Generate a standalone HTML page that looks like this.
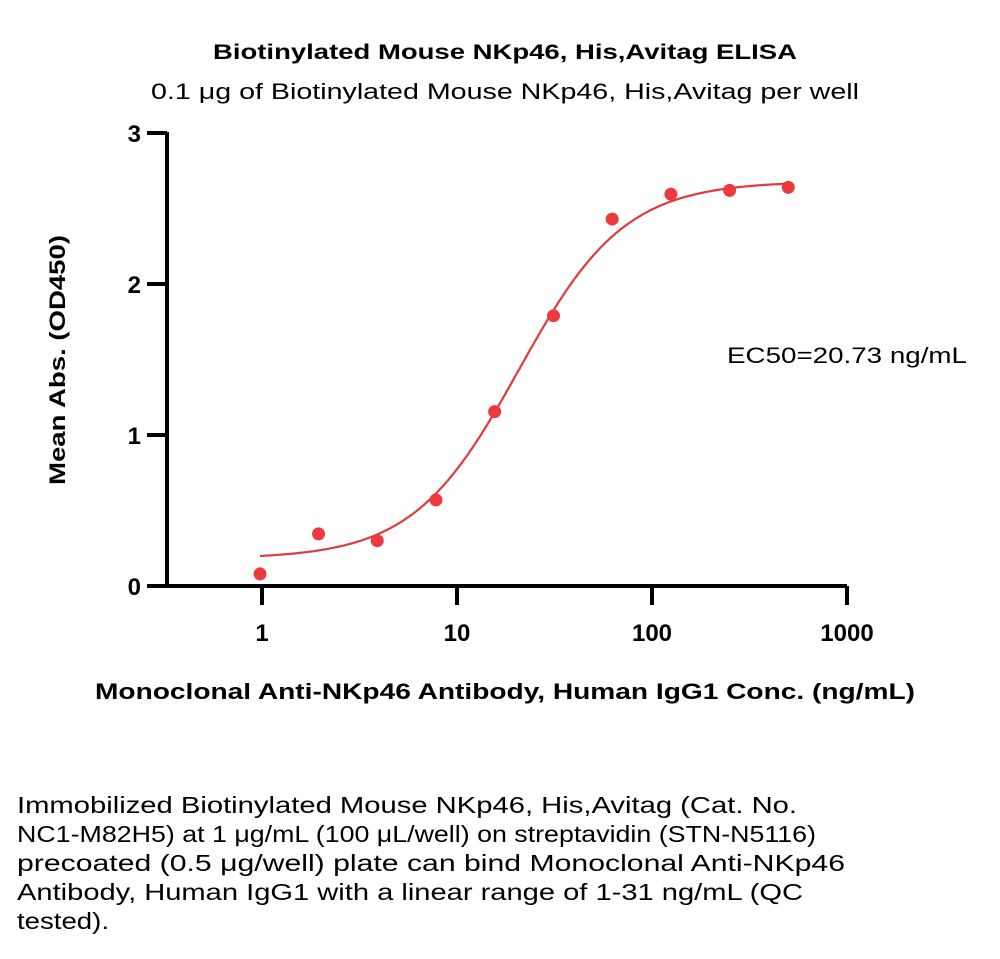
<!DOCTYPE html>
<html><head><meta charset="utf-8"><style>
html,body{margin:0;padding:0;background:#fff;}
svg{display:block;font-family:"Liberation Sans",sans-serif;}
</style></head><body>
<svg id="chart" width="1000" height="959" viewBox="0 0 1000 959">
<text x="505" y="59" text-anchor="middle" font-size="21" font-weight="bold" textLength="584" lengthAdjust="spacingAndGlyphs">Biotinylated Mouse NKp46, His,Avitag ELISA</text>
<text x="505" y="99" text-anchor="middle" font-size="22" textLength="708" lengthAdjust="spacingAndGlyphs">0.1 μg of Biotinylated Mouse NKp46, His,Avitag per well</text>
<text transform="translate(65,360) rotate(-90)" text-anchor="middle" font-size="22" font-weight="bold" textLength="250" lengthAdjust="spacingAndGlyphs">Mean Abs. (OD450)</text>
<text x="505" y="699" text-anchor="middle" font-size="22" font-weight="bold" textLength="820" lengthAdjust="spacingAndGlyphs">Monoclonal Anti-NKp46 Antibody, Human IgG1 Conc. (ng/mL)</text>
<text x="727" y="363" font-size="22" textLength="240" lengthAdjust="spacingAndGlyphs">EC50=20.73 ng/mL</text>
<g id="axes"></g>
<g id="marks"></g>
<g font-size="23.5">
<text x="17" y="813" textLength="780" lengthAdjust="spacingAndGlyphs">Immobilized Biotinylated Mouse NKp46, His,Avitag (Cat. No.</text>
<text x="17" y="842" textLength="799" lengthAdjust="spacingAndGlyphs">NC1-M82H5) at 1 μg/mL (100 μL/well) on streptavidin (STN-N5116)</text>
<text x="17" y="871" textLength="828" lengthAdjust="spacingAndGlyphs">precoated (0.5 μg/well) plate can bind Monoclonal Anti-NKp46</text>
<text x="17" y="900" textLength="786" lengthAdjust="spacingAndGlyphs">Antibody, Human IgG1 with a linear range of 1-31 ng/mL (QC</text>
<text x="17" y="929" textLength="92" lengthAdjust="spacingAndGlyphs">tested).</text>
</g>
</svg>
<script>
const concentrations = [0.977, 1.95, 3.9, 7.8, 15.6, 31.25, 62.5, 125, 250, 500];
const absorbances = [0.08, 0.345, 0.30, 0.57, 1.155, 1.79, 2.43, 2.595, 2.62, 2.64];
const xTicks = [1, 10, 100, 1000];
const xTickLabels = ["1", "10", "100", "1000"];
const yTicks = [0, 1, 2, 3];
const yTickLabels = ["0", "1", "2", "3"];
const fitBottom = 0.18, fitTop = 2.68, fitEC50 = 20.73, fitHill = 1.6;

const NS = "http://www.w3.org/2000/svg";
const X0 = 262, DEC = 195, Y0 = 586, YU = 151;
function xs(v){ return X0 + Math.log10(v) * DEC; }
function ys(v){ return Y0 - v * YU; }
function mk(tag, attrs, parent){ const e = document.createElementNS(NS, tag); for (const k in attrs) e.setAttribute(k, attrs[k]); parent.appendChild(e); return e; }
const axes = document.getElementById("axes"), marks = document.getElementById("marks");

const yAxis = mk("line", {x1:167, y1:ys(3)-1, x2:167, y2:Y0+2, stroke:"#000", "stroke-width":4}, axes);


const xAxis = mk("line", {x1:147, y1:Y0, x2:847, y2:Y0, stroke:"#000", "stroke-width":4}, axes);



yTicks.forEach((t, i) => {
  const l = mk("line", {x1:147, y1:ys(t), x2:167, y2:ys(t), stroke:"#000", "stroke-width":4}, axes);
  
  
  const tx = mk("text", {x:141, y:ys(t)+9, "text-anchor":"end", "font-size":24, "font-weight":"bold"}, axes);
  tx.textContent = yTickLabels[i];
  
  
});
xTicks.forEach((t, i) => {
  const l = mk("line", {x1:xs(t), y1:Y0, x2:xs(t), y2:Y0+19, stroke:"#000", "stroke-width":4}, axes);
  
  
  const tx = mk("text", {x:xs(t), y:641, "text-anchor":"middle", "font-size":24, "font-weight":"bold"}, axes);
  tx.textContent = xTickLabels[i];
  
  
});

let d = "";
const lo = Math.log10(concentrations[0]), hi = Math.log10(concentrations[concentrations.length-1]);
for (let i = 0; i <= 200; i++) {
  const lx = lo + (hi - lo) * i / 200, c = Math.pow(10, lx);
  const v = fitBottom + (fitTop - fitBottom) / (1 + Math.pow(fitEC50 / c, fitHill));
  d += (i ? "L" : "M") + xs(c).toFixed(1) + "," + ys(v).toFixed(1);
}
const curve = mk("path", {d:d, fill:"none", stroke:"#e03a3e", "stroke-width":2.2}, marks);



concentrations.forEach((c, i) => {
  const p = mk("circle", {cx:xs(c), cy:ys(absorbances[i]), r:6.5, fill:"#ec3a3f"}, marks);
  
  
});
</script>
</body></html>
